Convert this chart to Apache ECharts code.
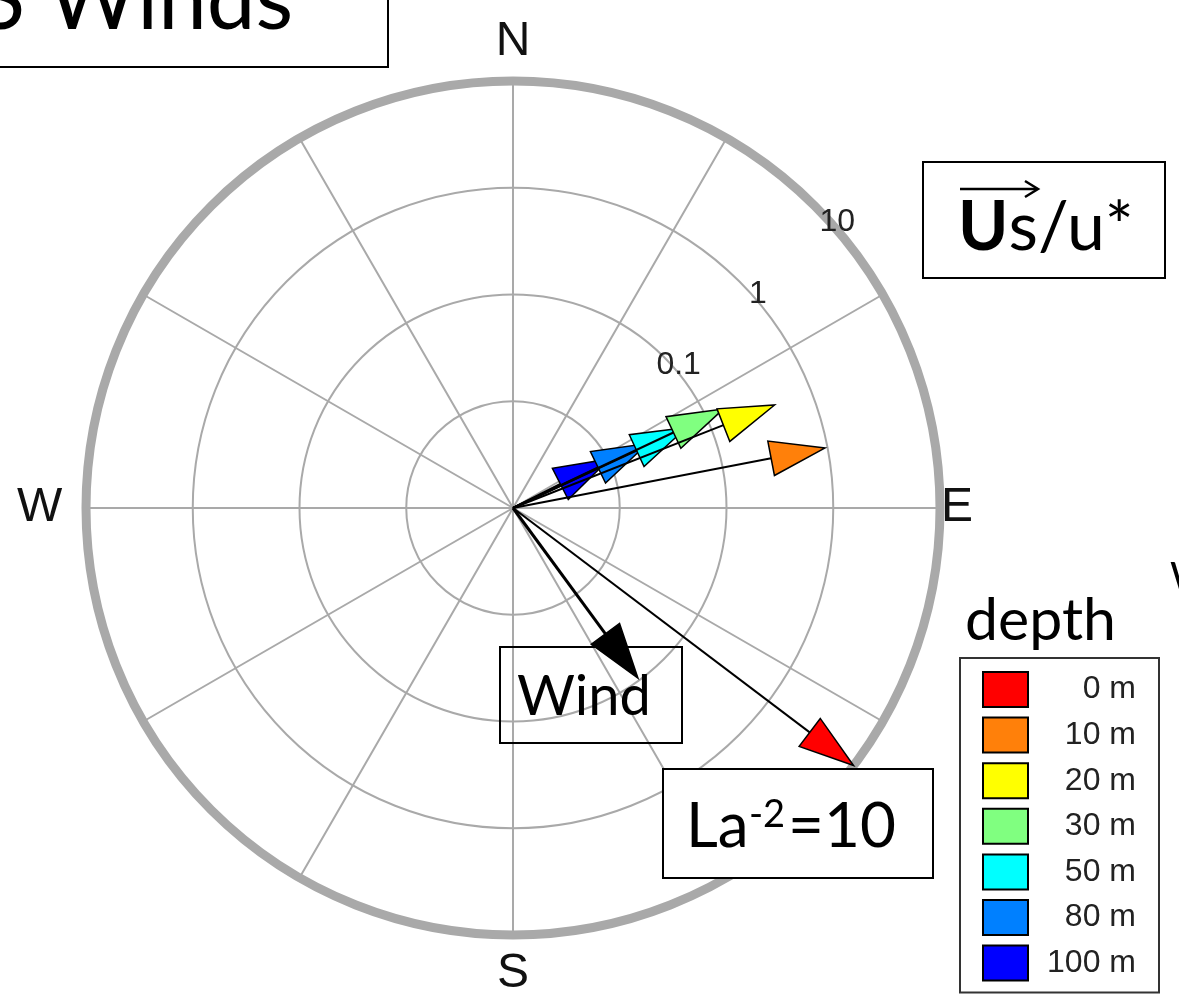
<!DOCTYPE html>
<html>
<head>
<meta charset="utf-8">
<script src="https://cdn.jsdelivr.net/npm/echarts@6/dist/echarts.min.js"></script>
<style>
html,body{margin:0;padding:0;background:#fff;}
#chart{width:1179px;height:1008px;}
</style>
</head>
<body>
<div id="chart"></div>
<script>
// ---- data ----
const depthLabels = ['0 m', '10 m', '20 m', '30 m', '50 m', '80 m', '100 m'];
const depthBearings = [127.1, 79.1, 68.5, 64.8, 65.1, 64.4, 63.0];   // degrees from N, clockwise
const depthMagnitudes = [10, 0.95, 0.43, 0.15, 0.062, 0.025, 0.0103]; // Us/u*
const windBearing = [143.7];
const windMagnitude = [0.095];
const radialLabelValues = [0.1, 1, 10];
const compassLabels = { 0: 'N', 90: 'E', 180: 'S', 270: 'W' };

// ---- styles ----
const depthColors = ['#ff0000', '#ff800a', '#ffff00', '#80ff80', '#00ffff', '#0080ff', '#0000ff'];
const gridGray = '#a9a9a9';
const CX = 513, CY = 508, R = 427;

function arrowRenderer(fill, shaftWidth) {
  return function (params, api) {
    const tip = api.coord([api.value(0), api.value(1)]);
    const cs = params.coordSys;
    const cx = cs.cx, cy = cs.cy;
    const dx = tip[0] - cx, dy = tip[1] - cy;
    const len = Math.hypot(dx, dy);
    const ux = dx / len, uy = dy / len;
    const L = 55, W = 17.5;
    const bx = tip[0] - ux * L, by = tip[1] - uy * L;
    const p1 = [bx - uy * W, by + ux * W];
    const p2 = [bx + uy * W, by - ux * W];
    return {
      type: 'group',
      children: [
        { type: 'line', shape: { x1: cx, y1: cy, x2: bx, y2: by }, style: { stroke: '#000', lineWidth: shaftWidth } },
        { type: 'polygon', shape: { points: [tip, p1, p2] }, style: { fill: fill, stroke: '#000', lineWidth: 1.5 } }
      ]
    };
  };
}

const series = depthLabels.map((name, i) => ({
  type: 'custom',
  name: name,
  coordinateSystem: 'polar',
  polarIndex: 0,
  z: 10 - i,
  itemStyle: { color: depthColors[i] },
  data: [[depthMagnitudes[i], depthBearings[i]]],
  renderItem: arrowRenderer(depthColors[i], 2)
}));
series.push({
  type: 'custom',
  name: 'Wind',
  coordinateSystem: 'polar',
  polarIndex: 0,
  z: 3,
  itemStyle: { color: '#000' },
  data: windMagnitude.map((m, i) => [m, windBearing[i]]),
  renderItem: arrowRenderer('#000', 3)
});

const labelFont = 'Liberation Sans';
const boxFont = 'Lato';
const compassFontSize = 48;

const hiddenRadius = (idx) => ({
  polarIndex: idx, type: 'log', logBase: 10, min: 0.001, max: 10,
  axisLine: { show: false }, axisTick: { show: false }, axisLabel: { show: false }, splitLine: { show: false }
});

const option = {
  backgroundColor: '#fff',
  animation: false,
  polar: [
    { center: [CX, CY], radius: R },
    { center: [CX, CY], radius: R },
    { center: [CX, CY], radius: R }
  ],
  angleAxis: [
    {
      polarIndex: 0, type: 'value', min: 0, max: 360, interval: 30,
      startAngle: 90, clockwise: true,
      axisLine: { show: true, lineStyle: { color: gridGray, width: 9 } },
      axisTick: { show: false },
      splitLine: { show: true, lineStyle: { color: gridGray, width: 2 } },
      axisLabel: {
        margin: 15,
        fontSize: compassFontSize, fontFamily: labelFont, color: '#111',
        formatter: v => {
          const s = compassLabels[v];
          if (!s || s === 'E') return '';
          return s === 'W' ? '{w|W}' : s;
        },
        rich: { w: { width: 54, align: 'left', fontSize: compassFontSize, fontFamily: labelFont, color: '#111' } }
      }
    },
    {
      polarIndex: 1, type: 'value', min: 0, max: 360, startAngle: 42, clockwise: true,
      axisLine: { show: false }, axisTick: { show: false }, axisLabel: { show: false }, splitLine: { show: false }
    },
    {
      polarIndex: 2, type: 'value', min: 0, max: 360, interval: 90, startAngle: 90, clockwise: true,
      axisLine: { show: false }, axisTick: { show: false }, splitLine: { show: false },
      axisLabel: {
        margin: 1,
        fontSize: compassFontSize, fontFamily: labelFont, color: '#111',
        formatter: v => (compassLabels[v] === 'E' ? 'E' : '')
      }
    }
  ],
  radiusAxis: [
    {
      polarIndex: 0, type: 'log', logBase: 10, min: 0.001, max: 10,
      axisLine: { show: false }, axisTick: { show: false }, axisLabel: { show: false },
      splitLine: { show: true, lineStyle: { color: gridGray, width: 2 } }
    },
    {
      polarIndex: 1, type: 'log', logBase: 10, min: 0.001, max: 10,
      axisLine: { show: false }, axisTick: { show: false }, splitLine: { show: false },
      axisLabel: {
        margin: 0, align: 'center', verticalAlign: 'middle',
        padding: [0, 0, 16, 14],
        fontSize: 32, fontFamily: labelFont, color: '#222',
        formatter: function (v) {
          for (const t of radialLabelValues) {
            if (Math.abs(Math.log10(v) - Math.log10(t)) < 1e-6) return String(t);
          }
          return '';
        }
      }
    },
    hiddenRadius(2)
  ],
  legend: {
    orient: 'vertical', left: 960, top: 658, height: 345,
    data: depthLabels, selectedMode: false,
    icon: 'rect', itemWidth: 45, itemHeight: 35, itemGap: 8.6,
    padding: [13, 23, 11, 22],
    borderColor: '#333', borderWidth: 2,
    itemStyle: { borderColor: '#000', borderWidth: 2 },
    formatter: n => '{r|' + n + '}',
    textStyle: {
      fontFamily: labelFont, fontSize: 32, color: '#222',
      rich: { r: { width: 103, lineHeight: 32, align: 'right', fontFamily: labelFont, fontSize: 32, color: '#222' } }
    }
  },
  graphic: [
    // title box (cut off at left/top)
    { type: 'rect', z: 100, shape: { x: -10, y: -10, width: 398, height: 77 }, style: { fill: '#fff', stroke: '#000', lineWidth: 2 } },
    { type: 'text', z: 101, style: { x: -22, y: 1, text: 'S Winds', font: '87px ' + boxFont, fill: '#000', textVerticalAlign: 'middle' } },
    // Us/u* box
    { type: 'rect', z: 100, shape: { x: 923, y: 162, width: 242, height: 116 }, style: { fill: '#fff', stroke: '#000', lineWidth: 2 } },
    { type: 'text', z: 101, style: { x: 958, y: 228, text: '{b|U}{n|s/u*}', fill: '#000', textVerticalAlign: 'middle',
        rich: { b: { font: 'bold 68px ' + boxFont, fill: '#000' }, n: { font: '68px ' + boxFont, fill: '#000' } } } },
    { type: 'line', z: 101, shape: { x1: 960, y1: 189, x2: 1037, y2: 189 }, style: { stroke: '#000', lineWidth: 2.5 } },
    { type: 'polyline', z: 101, shape: { points: [[1025, 181], [1038, 189], [1025, 197]] }, style: { stroke: '#000', lineWidth: 2.5, fill: null } },
    // Wind box (transparent)
    { type: 'rect', z: 100, shape: { x: 500, y: 647, width: 182, height: 96 }, style: { fill: 'none', stroke: '#000', lineWidth: 2 } },
    { type: 'text', z: 101, style: { x: 517, y: 697, text: 'Wind', font: '56px ' + boxFont, fill: '#000', textVerticalAlign: 'middle' } },
    // La box
    { type: 'rect', z: 100, shape: { x: 663, y: 769, width: 270, height: 109 }, style: { fill: '#fff', stroke: '#000', lineWidth: 2 } },
    { type: 'text', z: 101, style: { x: 686, y: 827, text: 'La', font: '62px ' + boxFont, fill: '#000', textVerticalAlign: 'middle' } },
    { type: 'text', z: 101, style: { x: 749, y: 815, text: '-2', font: '38px ' + boxFont, fill: '#000', textVerticalAlign: 'middle' } },
    { type: 'text', z: 101, style: { x: 788, y: 827, text: '=10', font: '62px ' + boxFont, fill: '#000', textVerticalAlign: 'middle' } },
    // depth label
    { type: 'text', z: 101, style: { x: 965, y: 621, text: 'depth', font: '59px ' + boxFont, fill: '#000', textVerticalAlign: 'middle' } },
    // cut-off fragment at right edge
    { type: 'text', z: 101, style: { x: 1170, y: 578, text: 'W', font: '40px ' + boxFont, fill: '#000', textVerticalAlign: 'middle' } }
  ],
  series: series
};

const chart = echarts.init(document.getElementById('chart'), null, { renderer: 'canvas' });
chart.setOption(option);
</script>
</body>
</html>
